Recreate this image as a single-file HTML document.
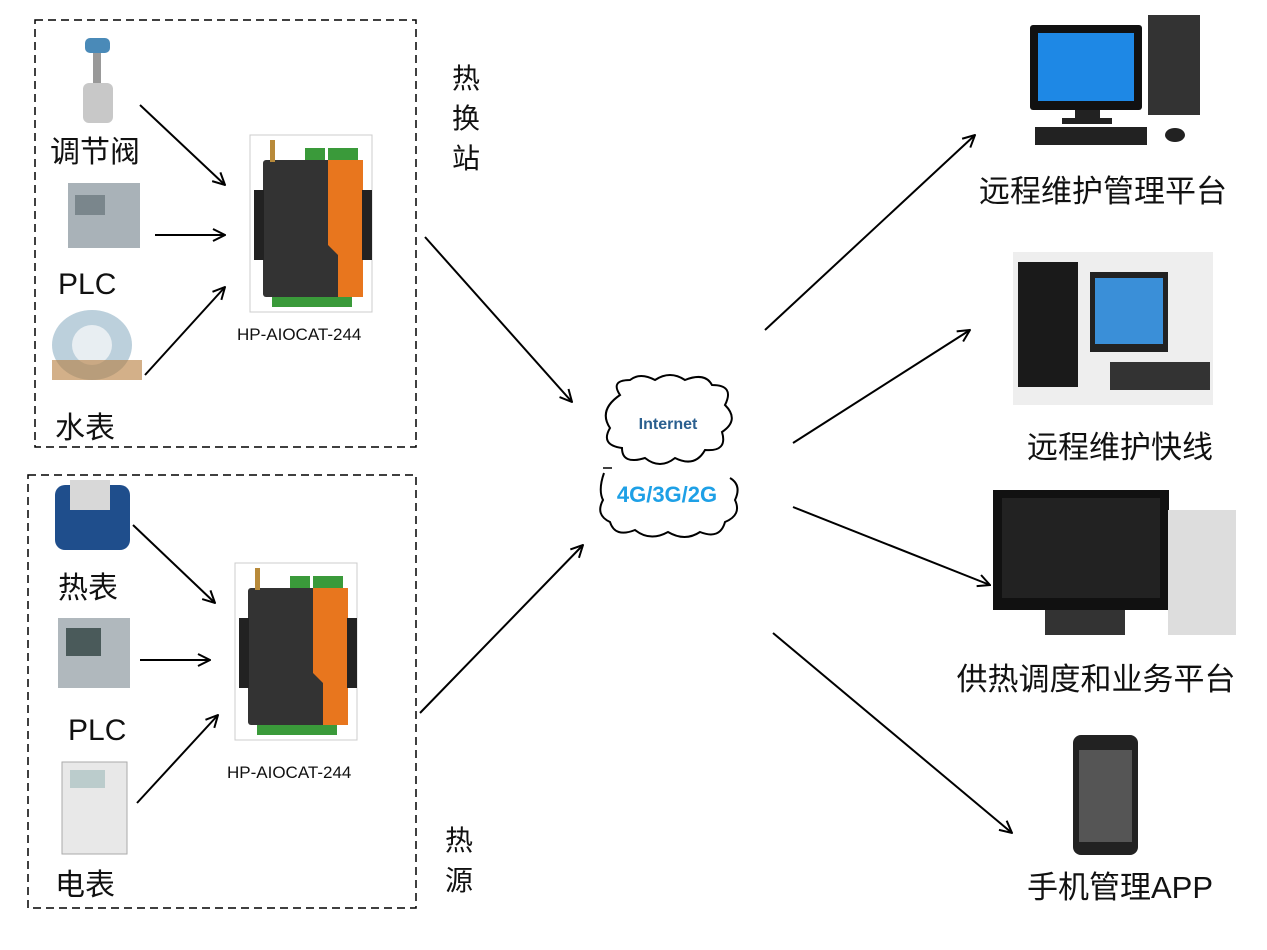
<!DOCTYPE html>
<html><head><meta charset="utf-8"><style>
html,body{margin:0;padding:0;background:#fff;width:1267px;height:950px;overflow:hidden}
svg{display:block}
.t{font-family:"Liberation Sans","Noto Sans CJK SC",sans-serif;fill:#111}
</style></head><body>
<svg width="1267" height="950" viewBox="0 0 1267 950" xmlns="http://www.w3.org/2000/svg">
<defs>
<marker id="a" viewBox="0 0 14 14" refX="13" refY="7" markerWidth="14" markerHeight="14" orient="auto" markerUnits="userSpaceOnUse"><path d="M1,1 L13,7 L1,13" fill="none" stroke="#000" stroke-width="2"/></marker>
<g id="dev">
<rect x="0" y="0" width="122" height="177" fill="#fff" stroke="#ccc"/>
<rect x="13" y="25" width="100" height="137" rx="3" fill="#333"/>
<path d="M78,25 L113,25 L113,162 L88,162 L88,120 L78,110 Z" fill="#e8761e"/>
<rect x="55" y="13" width="20" height="12" fill="#3a9a3a"/><rect x="78" y="13" width="30" height="12" fill="#3a9a3a"/>
<rect x="20" y="5" width="5" height="22" fill="#b88a3a"/>
<rect x="22" y="162" width="80" height="10" fill="#3a9a3a"/>
<rect x="4" y="55" width="10" height="70" fill="#222"/><rect x="112" y="55" width="10" height="70" fill="#222"/>
</g>
</defs>
<rect x="35" y="20" width="381" height="427" fill="none" stroke="#000" stroke-width="1.5" stroke-dasharray="8,5"/>
<rect x="28" y="475" width="388" height="433" fill="none" stroke="#000" stroke-width="1.5" stroke-dasharray="8,5"/>
<g>
<rect x="85" y="38" width="25" height="15" rx="5" fill="#4a8ab8"/><rect x="93" y="53" width="8" height="30" fill="#999"/><rect x="83" y="83" width="30" height="40" rx="6" fill="#c8c8c8"/>
<rect x="68" y="183" width="72" height="65" fill="#a9b2b8"/><rect x="75" y="195" width="30" height="20" fill="#7a868c"/>
<ellipse cx="92" cy="345" rx="40" ry="35" fill="#bcd0dc"/><circle cx="92" cy="345" r="20" fill="#e8eef2"/><rect x="52" y="360" width="90" height="20" fill="#b57b3a" opacity=".6"/>
<rect x="55" y="485" width="75" height="65" rx="10" fill="#1f4e8c"/><rect x="70" y="480" width="40" height="30" fill="#d8d8d8"/>
<rect x="58" y="618" width="72" height="70" fill="#b0b8bd"/><rect x="66" y="628" width="35" height="28" fill="#4a5a5a"/>
<rect x="62" y="762" width="65" height="92" fill="#e8e8e8" stroke="#aaa"/><rect x="70" y="770" width="35" height="18" fill="#bcc"/>
</g>
<use href="#dev" x="250" y="135"/>
<use href="#dev" x="235" y="563"/>
<g class="t" font-size="30">
<text x="50" y="162">调节阀</text>
<text x="58" y="294">PLC</text>
<text x="55" y="438">水表</text>
<text x="58" y="598">热表</text>
<text x="68" y="740">PLC</text>
<text x="55" y="895">电表</text>
</g>
<g class="t" font-size="28">
<text x="452" y="88">热</text><text x="452" y="128">换</text><text x="452" y="168">站</text>
<text x="445" y="850">热</text><text x="445" y="890">源</text>
</g>
<g class="t" font-size="17"><text x="237" y="340">HP-AIOCAT-244</text><text x="227" y="778">HP-AIOCAT-244</text></g>
<g stroke="#000" stroke-width="2" fill="none" marker-end="url(#a)">
<line x1="140" y1="105" x2="225" y2="185"/>
<line x1="155" y1="235" x2="225" y2="235"/>
<line x1="145" y1="375" x2="225" y2="287"/>
<line x1="133" y1="525" x2="215" y2="603"/>
<line x1="140" y1="660" x2="210" y2="660"/>
<line x1="137" y1="803" x2="218" y2="715"/>
<line x1="425" y1="237" x2="572" y2="402"/>
<line x1="420" y1="713" x2="583" y2="545"/>
<line x1="765" y1="330" x2="975" y2="135"/>
<line x1="793" y1="443" x2="970" y2="330"/>
<line x1="793" y1="507" x2="990" y2="585"/>
<line x1="773" y1="633" x2="1012" y2="833"/>
</g>
<g fill="#fff" stroke="#000" stroke-width="2">
<path d="M620,395 Q610,380 630,380 Q640,372 655,380 Q670,370 685,380 Q705,372 712,385 Q735,385 725,405 Q740,420 722,432 Q728,452 705,450 Q695,468 675,458 Q660,470 645,458 Q622,465 622,448 Q600,445 610,428 Q598,410 620,395 Z"/>
<path d="M604,473 Q598,490 603,500 Q595,515 610,522 Q615,538 635,530 Q650,542 668,532 Q685,542 700,532 Q720,540 725,522 Q742,515 735,500 Q742,485 730,478"/>
</g>
<line x1="603" y1="468" x2="612" y2="468" stroke="#000" stroke-width="1.5"/>
<text x="668" y="429" text-anchor="middle" font-family="Liberation Sans,sans-serif" font-weight="bold" font-size="16" fill="#2a5f8f">Internet</text>
<text x="667" y="502" text-anchor="middle" font-family="Liberation Sans,sans-serif" font-weight="bold" font-size="22" fill="#1ea0e6">4G/3G/2G</text>
<rect x="1030" y="25" width="112" height="85" rx="3" fill="#111"/><rect x="1038" y="33" width="96" height="68" fill="#1e88e5"/>
<rect x="1075" y="110" width="25" height="10" fill="#222"/><rect x="1062" y="118" width="50" height="6" fill="#222"/>
<rect x="1148" y="15" width="52" height="100" fill="#333"/><rect x="1035" y="127" width="112" height="18" fill="#222"/><ellipse cx="1175" cy="135" rx="10" ry="7" fill="#222"/>
<rect x="1013" y="252" width="200" height="153" fill="#eee"/>
<rect x="1018" y="262" width="60" height="125" fill="#1a1a1a"/><rect x="1090" y="272" width="78" height="80" fill="#222"/><rect x="1095" y="278" width="68" height="66" fill="#3a8fd8"/>
<rect x="1110" y="362" width="100" height="28" fill="#333"/>
<rect x="993" y="490" width="176" height="120" fill="#111"/><rect x="1002" y="498" width="158" height="100" fill="#222"/>
<rect x="1045" y="610" width="80" height="25" fill="#333"/><rect x="1168" y="510" width="68" height="125" fill="#ddd"/>
<rect x="1073" y="735" width="65" height="120" rx="8" fill="#222"/><rect x="1079" y="750" width="53" height="92" fill="#555"/>
<g class="t" font-size="31" text-anchor="middle">
<text x="1103" y="202">远程维护管理平台</text>
<text x="1120" y="458">远程维护快线</text>
<text x="1096" y="690">供热调度和业务平台</text>
<text x="1120" y="898">手机管理APP</text>
</g>
</svg>
</body></html>
